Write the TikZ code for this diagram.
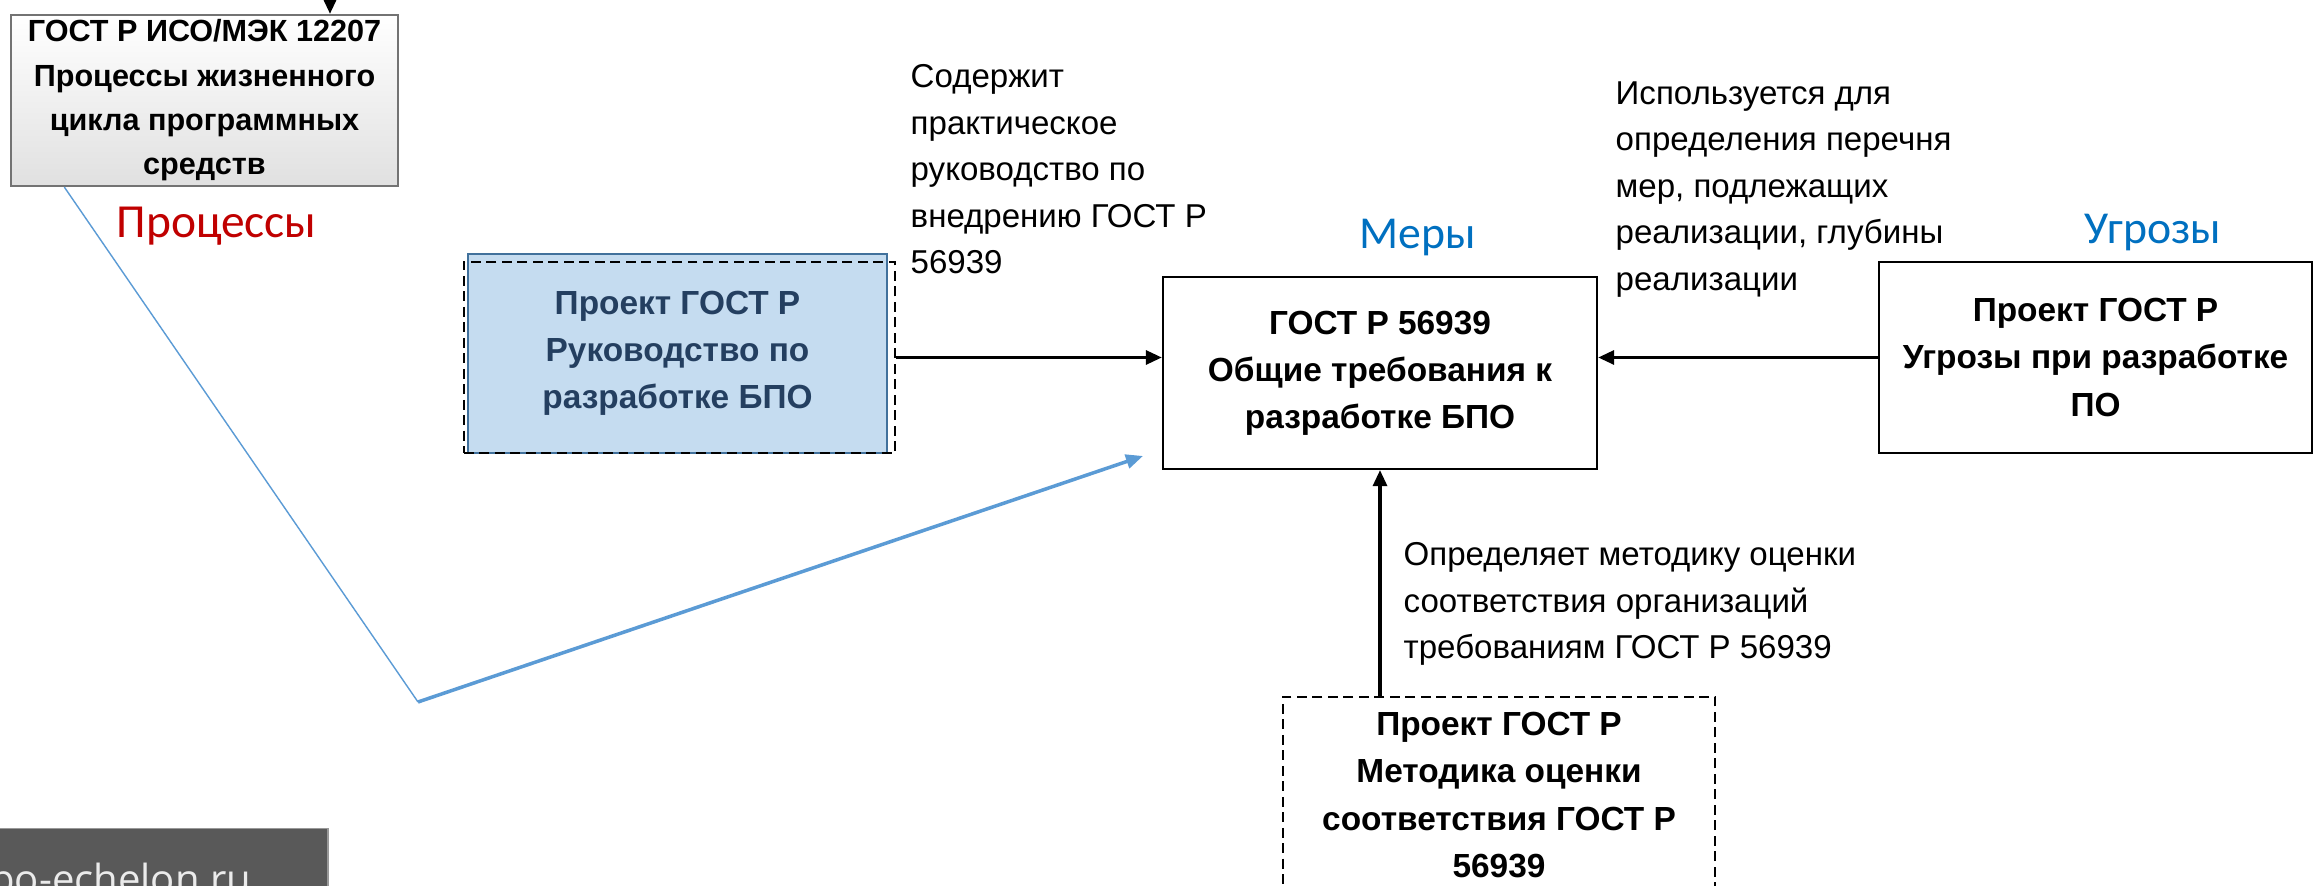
\documentclass[tikz,border=0pt]{standalone}
\usepackage{fontspec}
\setmainfont{Liberation Sans}
\newfontfamily\calibrifont{Carlito}
\newfontfamily\sitefont{Open Sans}
\usepackage{tikz}
\usetikzlibrary{arrows.meta,calc}
\definecolor{crimson}{HTML}{C00000}
\definecolor{azure}{HTML}{0070C0}
\definecolor{sky}{HTML}{5B9BD5}
\definecolor{frost}{HTML}{C5DCF0}
\definecolor{steel}{HTML}{41719C}
\definecolor{navy}{HTML}{243F60}
\definecolor{ash}{HTML}{595959}

\begin{document}
\begin{tikzpicture}[x=0.01cm,y=-0.01cm,
    doc/.style={draw=black,line width=0.6pt,align=center,inner sep=0pt,
                font=\bfseries\fontsize{9.5}{13.4}\selectfont},
    note/.style={anchor=north west,inner sep=0pt,align=left,
                 font=\fontsize{9.4}{13.2}\selectfont},
    tag/.style={anchor=base,inner sep=0pt,font=\calibrifont\fontsize{13}{15}\selectfont},
    link/.style={line width=0.9pt,-{Triangle[length=1.6mm,width=1.4mm]}}]
  \clip (0,0) rectangle (2318,886);
  \fill[white] (0,0) rectangle (2318,886);

  % documents
  \node[doc,draw=black!55,top color=white,bottom color=black!12,
        minimum width=3.87cm,minimum height=1.71cm,
        font=\bfseries\fontsize{8.7}{12.6}\selectfont] (iso) at (204.5,100.5)
       {ГОСТ Р ИСО/МЭК 12207\\Процессы жизненного\\цикла программных\\средств};
  \node[doc,draw=steel,fill=frost,text=navy,
        minimum width=4.19cm,minimum height=1.99cm] (guide) at (677.5,353.5)
       {Проект ГОСТ Р\\Руководство по\\разработке БПО};
  \node[draw,dashed,dash pattern=on 2.8pt off 1.6pt,inner sep=0pt,
        minimum width=4.31cm,minimum height=1.91cm] (guidedash) at (679.5,357.5) {};
  \node[doc,minimum width=4.34cm,minimum height=1.92cm] (main) at (1380,373)
       {ГОСТ Р 56939\\Общие требования к\\разработке БПО};
  \node[doc,minimum width=4.33cm,minimum height=1.91cm] (threat) at (2095.5,357.5)
       {Проект ГОСТ Р\\Угрозы при разработке\\ПО};
  \node[doc,dashed,dash pattern=on 2.8pt off 1.6pt,
        minimum width=4.32cm,minimum height=1.96cm] (method) at (1499,795)
       {Проект ГОСТ Р\\Методика оценки\\соответствия ГОСТ Р\\56939};

  % captions
  \node[tag,text=crimson,font=\calibrifont\fontsize{13.5}{15}\selectfont] (proc) at (216.5,238) {Процессы};
  \node[tag,text=azure] (mery) at (1418,249) {Меры};
  \node[tag,text=azure] (ugrozy) at (2153,244) {Угрозы};

  \node[note] (contains) at (910,64)
       {Содержит\\практическое\\руководство по\\внедрению ГОСТ Р\\56939};
  \node[note] (used) at (1615,81)
       {Используется для\\определения перечня\\мер, подлежащих\\реализации, глубины\\реализации};
  \node[note] (defines) at (1403,542)
       {Определяет методику оценки\\соответствия организаций\\требованиям ГОСТ Р 56939};

  % links
  \draw[link] (guidedash.east) -- (guidedash.east -| main.west);
  \draw[link] (threat.west) -- (threat.west -| main.east);
  \draw[link] (main.south |- method.north) -- (main.south);
  \coordinate (isoin) at (330,-40);
  \draw[link] (isoin) -- (isoin |- iso.north);

  \coordinate (knee) at (418,702);
  \coordinate (aim) at (1143,456);
  \draw[sky,line width=0.4pt] ($(iso.south west)!0.14!(iso.south east)$) -- (knee);
  \draw[sky,line width=1pt,-{Triangle[length=1.7mm,width=1.4mm]}] (knee) -- (aim);

  % site mark
  \node[fill=ash,draw=black!40,inner sep=0pt,anchor=north west,
        minimum width=3.32cm,minimum height=0.7cm] (site) at (-5,828) {};
  \node[anchor=base east,inner sep=0pt,text=white!92!black,
        font=\sitefont\fontsize{11.4}{13}\selectfont] (sitename) at (252,894) {po-echelon.ru};
\end{tikzpicture}
\end{document}
